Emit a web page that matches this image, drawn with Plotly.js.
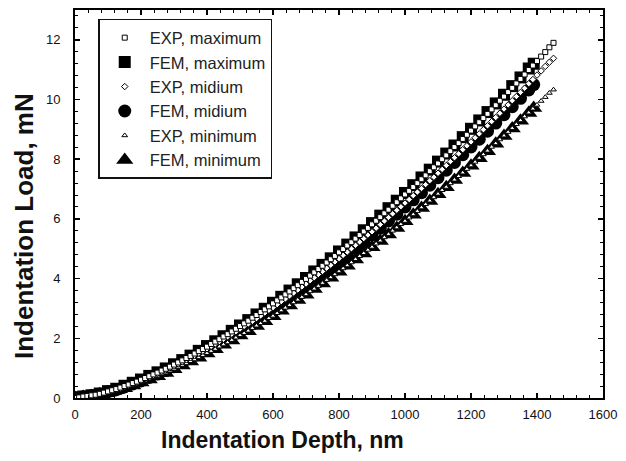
<!DOCTYPE html>
<html><head><meta charset="utf-8">
<script src="https://cdn.plot.ly/plotly-3.0.1.min.js"></script>
<style>html,body{margin:0;padding:0;background:#fff}</style>
</head><body>
<div id="chart" style="width:626px;height:461px"></div>
<script>
// Experimental depths (nm)
const expDepth = [0,12.5,25,37.5,50,62.5,75,87.5,100,112.5,125,137.5,150,162.5,175,187.5,200,212.5,225,237.5,250,262.5,275,287.5,300,312.5,325,337.5,350,362.5,375,387.5,400,412.5,425,437.5,450,462.5,475,487.5,500,512.5,525,537.5,550,562.5,575,587.5,600,612.5,625,637.5,650,662.5,675,687.5,700,712.5,725,737.5,750,762.5,775,787.5,800,812.5,825,837.5,850,862.5,875,887.5,900,912.5,925,937.5,950,962.5,975,987.5,1000,1012.5,1025,1037.5,1050,1062.5,1075,1087.5,1100,1112.5,1125,1137.5,1150,1162.5,1175,1187.5,1200,1212.5,1225,1237.5,1250,1262.5,1275,1287.5,1300,1312.5,1325,1337.5,1350,1362.5,1375,1387.5,1400,1412.5,1425,1437.5,1450];
const expMax = [0.00,0.02,0.05,0.07,0.09,0.11,0.14,0.18,0.22,0.26,0.30,0.35,0.40,0.45,0.50,0.55,0.61,0.67,0.73,0.79,0.85,0.92,0.98,1.05,1.12,1.19,1.26,1.34,1.41,1.49,1.57,1.64,1.72,1.81,1.89,1.97,2.06,2.14,2.23,2.32,2.41,2.50,2.59,2.69,2.78,2.88,2.97,3.07,3.17,3.27,3.37,3.47,3.57,3.68,3.78,3.89,3.99,4.10,4.21,4.32,4.43,4.54,4.65,4.76,4.88,4.99,5.11,5.22,5.34,5.46,5.58,5.70,5.82,5.94,6.06,6.19,6.31,6.44,6.56,6.69,6.82,6.94,7.07,7.20,7.33,7.46,7.60,7.73,7.86,8.00,8.13,8.27,8.41,8.54,8.68,8.82,8.96,9.10,9.24,9.38,9.52,9.67,9.81,9.96,10.10,10.25,10.39,10.54,10.69,10.84,10.99,11.14,11.29,11.44,11.59,11.75,11.90];
const expMid = [0.00,0.02,0.04,0.06,0.08,0.10,0.13,0.17,0.21,0.25,0.29,0.33,0.38,0.43,0.48,0.53,0.58,0.64,0.70,0.76,0.82,0.88,0.94,1.01,1.07,1.14,1.21,1.28,1.35,1.43,1.50,1.57,1.65,1.73,1.81,1.89,1.97,2.05,2.14,2.22,2.31,2.40,2.48,2.57,2.66,2.75,2.85,2.94,3.03,3.13,3.23,3.32,3.42,3.52,3.62,3.72,3.82,3.93,4.03,4.14,4.24,4.35,4.45,4.56,4.67,4.78,4.89,5.00,5.12,5.23,5.34,5.46,5.57,5.69,5.81,5.93,6.05,6.17,6.29,6.41,6.53,6.65,6.78,6.90,7.02,7.15,7.28,7.40,7.53,7.66,7.79,7.92,8.05,8.18,8.32,8.45,8.58,8.72,8.85,8.99,9.12,9.26,9.40,9.54,9.68,9.82,9.96,10.10,10.24,10.38,10.53,10.67,10.82,10.96,11.11,11.25,11.38];
const expMin = [0.00,0.01,0.03,0.05,0.07,0.09,0.12,0.15,0.19,0.22,0.26,0.30,0.34,0.39,0.43,0.48,0.53,0.58,0.63,0.69,0.74,0.80,0.85,0.91,0.97,1.04,1.10,1.16,1.23,1.29,1.36,1.43,1.50,1.57,1.64,1.72,1.79,1.86,1.94,2.02,2.10,2.17,2.25,2.34,2.42,2.50,2.58,2.67,2.75,2.84,2.93,3.02,3.11,3.20,3.29,3.38,3.47,3.57,3.66,3.75,3.85,3.95,4.04,4.14,4.24,4.34,4.44,4.54,4.65,4.75,4.85,4.96,5.06,5.17,5.27,5.38,5.49,5.60,5.71,5.82,5.93,6.04,6.15,6.26,6.38,6.49,6.61,6.72,6.84,6.96,7.07,7.19,7.31,7.43,7.55,7.67,7.79,7.91,8.04,8.16,8.28,8.41,8.53,8.66,8.79,8.91,9.04,9.17,9.30,9.43,9.56,9.69,9.82,9.95,10.08,10.22,10.33];
// FEM depths (nm)
const femDepth = [0,25,50,75,100,125,150,175,200,225,250,275,300,325,350,375,400,425,450,475,500,525,550,575,600,625,650,675,700,725,750,775,800,825,850,875,900,925,950,975,1000,1025,1050,1075,1100,1125,1150,1175,1200,1225,1250,1275,1300,1325,1350,1375,1390];
const femMax = [0.02,0.05,0.09,0.15,0.23,0.31,0.41,0.51,0.62,0.74,0.86,0.99,1.13,1.27,1.42,1.58,1.74,1.90,2.07,2.25,2.43,2.61,2.80,2.99,3.19,3.39,3.60,3.81,4.02,4.24,4.46,4.68,4.91,5.14,5.38,5.62,5.86,6.11,6.36,6.61,6.87,7.13,7.39,7.65,7.92,8.19,8.46,8.74,9.02,9.30,9.58,9.87,10.16,10.45,10.74,11.04,11.20];
const femMid = [0.01,0.04,0.08,0.13,0.21,0.28,0.37,0.47,0.57,0.69,0.80,0.92,1.05,1.19,1.32,1.47,1.62,1.77,1.93,2.10,2.26,2.43,2.61,2.79,2.97,3.17,3.35,3.55,3.74,3.95,4.16,4.36,4.58,4.79,5.02,5.23,5.46,5.69,5.93,6.16,6.40,6.64,6.88,7.13,7.38,7.63,7.89,8.15,8.41,8.67,8.94,9.21,9.49,9.76,10.04,10.32,10.50];
const femMin = [0.00,0.03,0.06,0.12,0.18,0.26,0.33,0.42,0.52,0.62,0.73,0.84,0.96,1.09,1.22,1.35,1.49,1.63,1.78,1.93,2.09,2.24,2.41,2.57,2.74,2.92,3.10,3.28,3.46,3.65,3.84,4.03,4.23,4.43,4.64,4.84,5.05,5.26,5.48,5.70,5.92,6.14,6.37,6.60,6.83,7.06,7.30,7.54,7.78,8.03,8.27,8.52,8.78,9.03,9.29,9.55,9.72];

const names = ["EXP, maximum","FEM, maximum","EXP, midium","FEM, midium","EXP, minimum","FEM, minimum"];
const xTickVals = [0,200,400,600,800,1000,1200,1400,1600];
const yTickVals = [0,2,4,6,8,10,12];

function tr(x, y, name, rank, symbol, size, filled) {
  return {
    type: 'scatter', mode: 'markers', x: x, y: y, name: name, legendrank: rank,
    marker: {
      symbol: symbol, size: size,
      color: filled ? '#000' : '#fff',
      line: {color: '#000', width: filled ? 0 : 1}
    }
  };
}

// FEM drawn first, EXP on top
const data = [
  tr(femDepth, femMin, names[5], 6, 'triangle-up', 15, true),
  tr(femDepth, femMid, names[3], 4, 'circle', 13, true),
  tr(femDepth, femMax, names[1], 2, 'square', 12, true),
  tr(expDepth, expMin, names[4], 5, 'triangle-up', 5, false),
  tr(expDepth, expMid, names[2], 3, 'diamond', 5, false),
  tr(expDepth, expMax, names[0], 1, 'square', 5, false)
];

const FONT = 'Arial, Liberation Sans, sans-serif';
const axisCommon = {
  showline: true, linecolor: '#000', linewidth: 2, mirror: 'allticks',
  ticks: 'inside', ticklen: 5, tickwidth: 1.5, tickcolor: '#000',
  showgrid: false, zeroline: false,
  tickfont: {family: FONT, size: 13, color: '#111'}
};

const layout = {
  width: 626, height: 461,
  margin: {l: 75, r: 23, t: 10, b: 63},
  paper_bgcolor: '#fff', plot_bgcolor: '#fff',
  showlegend: true,
  xaxis: Object.assign({}, axisCommon, {
    range: [0, 1600], tickvals: xTickVals, ticktext: xTickVals.map(String),
    minor: {ticks: 'inside', ticklen: 3, tickwidth: 1, tickcolor: '#000', dtick: 40, tick0: 0},
    ticklabelstandoff: 3,
    title: {text: ''}
  }),
  yaxis: Object.assign({}, axisCommon, {
    range: [0, 13], tickvals: yTickVals, ticktext: yTickVals.map(String),
    minor: {ticks: 'inside', ticklen: 3, tickwidth: 1, tickcolor: '#000', dtick: 0.4, tick0: 0},
    ticklabelstandoff: 10,
    title: {text: ''}
  }),
  legend: {
    x: 0.044, y: 0.977, xanchor: 'left', yanchor: 'top',
    bgcolor: '#fff', bordercolor: '#111', borderwidth: 1.5,
    font: {family: FONT, size: 16.5, color: '#222'},
    itemsizing: 'trace', itemwidth: 40, tracegroupgap: 0, traceorder: 'normal'
  },
  annotations: [
    {text: '<b>Indentation Depth, nm</b>', xref: 'paper', yref: 'paper',
     x: (282 - 75) / 528, y: -(440 - 398) / 388, xanchor: 'center', yanchor: 'middle', showarrow: false,
     font: {family: FONT, size: 23, color: '#111'}},
    {text: '<b>Indentation Load, mN</b>', xref: 'paper', yref: 'paper',
     x: (24 - 75) / 528, y: (398 - 226) / 388, xanchor: 'center', yanchor: 'middle', showarrow: false,
     textangle: -90,
     font: {family: FONT, size: 26, color: '#111'}}
  ]
};

Plotly.newPlot('chart', data, layout, {displayModeBar: false, staticPlot: true});
</script>
</body></html>
